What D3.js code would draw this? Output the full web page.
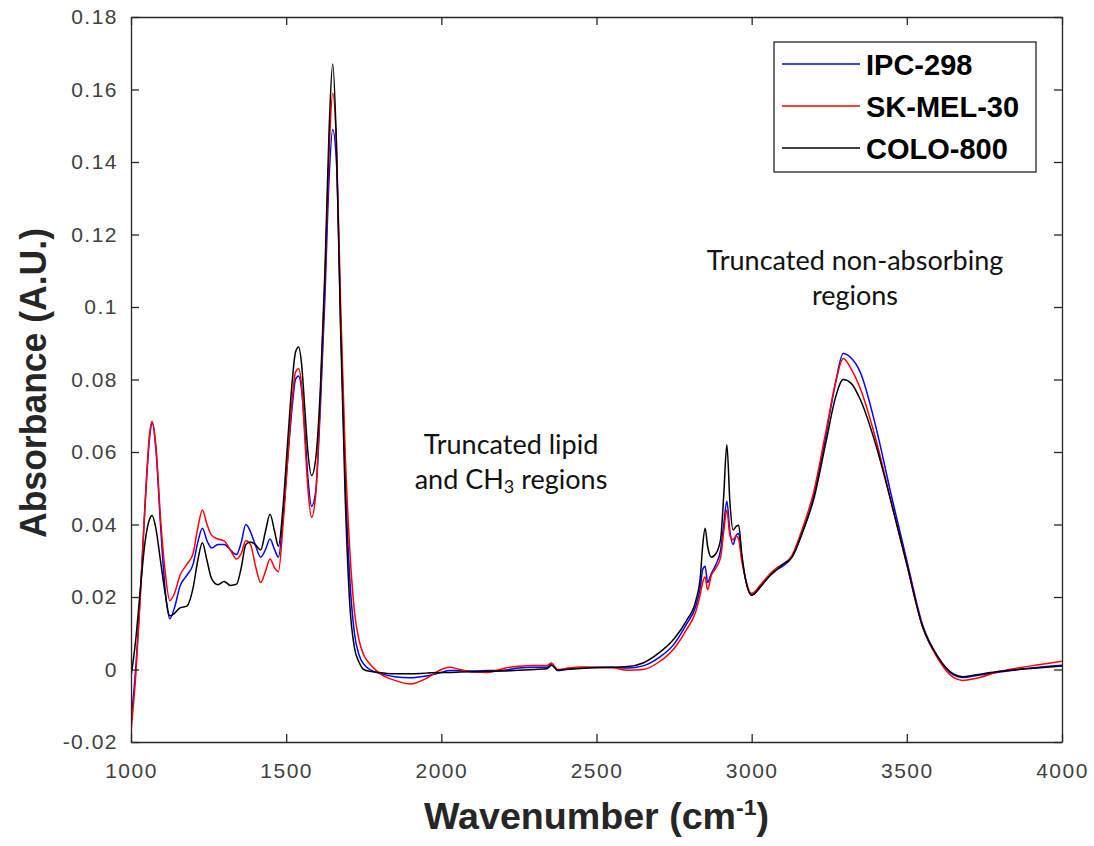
<!DOCTYPE html>
<html>
<head>
<meta charset="utf-8">
<script src="https://cdn.jsdelivr.net/npm/d3@7"></script>
<style>
  body { margin: 0; background: #fff; }
  svg { display: block; }
</style>
</head>
<body>
<script>
// wavenumber grid (cm-1), shared by all three spectra
var wavenumbers = [1000, 1015, 1030, 1045, 1060, 1068, 1080, 1095, 1110, 1125, 1140, 1158, 1180, 1200, 1215, 1230, 1245, 1260, 1280, 1300,
  1320, 1340, 1355, 1370, 1385, 1400, 1418, 1433, 1448, 1463, 1475, 1490, 1505, 1520, 1530, 1540, 1550, 1560, 1570, 1582,
  1595, 1610, 1625, 1638, 1650, 1662, 1675, 1690, 1705, 1720, 1735, 1750, 1770, 1800, 1850, 1900, 1950, 2000, 2025, 2060,
  2100, 2150, 2200, 2250, 2300, 2340, 2355, 2362, 2375, 2400, 2450, 2500, 2550, 2600, 2650, 2700, 2750, 2790, 2820, 2835,
  2842, 2850, 2858, 2870, 2885, 2900, 2910, 2920, 2930, 2940, 2950, 2958, 2968, 2980, 3000, 3030, 3060, 3080, 3100, 3130,
  3160, 3200, 3240, 3270, 3295, 3320, 3350, 3400, 3450, 3500, 3550, 3600, 3650, 3680, 3720, 3800, 3900, 4000];

var ipc298 = [-0.014, 0.000, 0.021, 0.045, 0.064, 0.068, 0.061, 0.040, 0.022, 0.014, 0.017, 0.023, 0.026, 0.029, 0.035, 0.039, 0.0355, 0.0335, 0.0345, 0.0345,
  0.033, 0.0317, 0.035, 0.040, 0.038, 0.0345, 0.031, 0.033, 0.036, 0.033, 0.031, 0.042, 0.058, 0.073, 0.080, 0.081, 0.077, 0.066, 0.053, 0.045,
  0.049, 0.072, 0.103, 0.135, 0.149, 0.140, 0.098, 0.054, 0.025, 0.010, 0.004, 0.0015, 0.0, -0.001, -0.002, -0.0023, -0.0018, -0.0008, -0.0003, -0.0003,
  -0.0004, -0.0003, -0.0002, 0.0004, 0.0006, 0.0006, 0.0015, 0.0009, -0.0003, 0.0, 0.0005, 0.0006, 0.0006, 0.0004, 0.001, 0.0032, 0.007, 0.0125, 0.0175, 0.023,
  0.0275, 0.0285, 0.024, 0.0265, 0.029, 0.033, 0.040, 0.0464, 0.038, 0.0345, 0.037, 0.0375, 0.031, 0.025, 0.0205, 0.023, 0.026, 0.0275, 0.0285, 0.031,
  0.037, 0.048, 0.065, 0.079, 0.0872, 0.086, 0.082, 0.067, 0.048, 0.030, 0.0125, 0.0035, -0.0015, -0.0022, -0.0017, -0.0007, 0.0004, 0.0012];

var skmel30 = [-0.017, -0.002, 0.020, 0.045, 0.065, 0.0685, 0.062, 0.042, 0.027, 0.019, 0.021, 0.026, 0.029, 0.032, 0.039, 0.044, 0.040, 0.037, 0.036, 0.0355,
  0.033, 0.0305, 0.032, 0.0355, 0.0345, 0.029, 0.024, 0.027, 0.0305, 0.028, 0.027, 0.040, 0.058, 0.075, 0.082, 0.083, 0.078, 0.064, 0.050, 0.042,
  0.048, 0.075, 0.108, 0.142, 0.159, 0.145, 0.102, 0.060, 0.033, 0.016, 0.008, 0.004, 0.0015, -0.001, -0.003, -0.004, -0.0025, 0.0, 0.0006, 0.0,
  -0.0007, -0.0008, 0.0003, 0.0009, 0.0011, 0.0011, 0.0018, 0.0012, 0.0, 0.0003, 0.0007, 0.0006, 0.0005, -0.0002, 0.0, 0.002, 0.0058, 0.011, 0.016, 0.021,
  0.024, 0.0255, 0.022, 0.026, 0.028, 0.031, 0.038, 0.044, 0.037, 0.0358, 0.0368, 0.036, 0.030, 0.025, 0.021, 0.0235, 0.0265, 0.028, 0.029, 0.0315,
  0.038, 0.049, 0.066, 0.079, 0.0858, 0.083, 0.0775, 0.0635, 0.046, 0.029, 0.012, 0.003, -0.0022, -0.003, -0.0025, -0.0005, 0.001, 0.0023];

var colo800 = [-0.002, 0.008, 0.022, 0.035, 0.0415, 0.0425, 0.039, 0.030, 0.021, 0.0148, 0.0155, 0.017, 0.0175, 0.0225, 0.030, 0.035, 0.030, 0.025, 0.0234, 0.0243,
  0.0232, 0.0235, 0.028, 0.0345, 0.0352, 0.0345, 0.033, 0.038, 0.0428, 0.038, 0.034, 0.045, 0.063, 0.080, 0.0875, 0.089, 0.084, 0.072, 0.060, 0.0535,
  0.058, 0.077, 0.110, 0.148, 0.167, 0.145, 0.095, 0.048, 0.018, 0.006, 0.002, 0.000, -0.0005, -0.0008, -0.0012, -0.0012, -0.001, -0.0008, -0.0008, -0.0007,
  -0.0006, -0.0005, -0.0004, -0.0002, 0.0, 0.0002, 0.0012, 0.0008, -0.0002, 0.0, 0.0003, 0.0005, 0.0006, 0.0008, 0.0018, 0.0045, 0.0085, 0.0135, 0.019, 0.026,
  0.034, 0.039, 0.034, 0.031, 0.032, 0.036, 0.048, 0.062, 0.046, 0.0385, 0.0395, 0.0398, 0.032, 0.025, 0.0205, 0.023, 0.026, 0.0275, 0.029, 0.031,
  0.037, 0.047, 0.063, 0.075, 0.080, 0.079, 0.0745, 0.062, 0.046, 0.029, 0.012, 0.0035, -0.0012, -0.002, -0.0015, -0.0005, 0.0003, 0.001];

var seriesNames = ["IPC-298", "SK-MEL-30", "COLO-800"];
var seriesColors = ["#0000ff", "#ff0000", "#000000"];
var xTicks = [1000, 1500, 2000, 2500, 3000, 3500, 4000];
var yTicks = [-0.02, 0, 0.02, 0.04, 0.06, 0.08, 0.1, 0.12, 0.14, 0.16, 0.18];
var yTickLabels = ["-0.02", "0", "0.02", "0.04", "0.06", "0.08", "0.1", "0.12", "0.14", "0.16", "0.18"];

var margin = { top: 17, right: 32, bottom: 104, left: 131 },
  width = 1094, height = 846,
  w = width - margin.left - margin.right,
  h = height - margin.top - margin.bottom;

var svg = d3.select("body").append("svg")
  .attr("width", width)
  .attr("height", height);

var sp = svg.append("g")
  .attr("transform", "translate(" + margin.left + "," + margin.top + ")");

var xScale = d3.scaleLinear().domain([1000, 4000]).range([0, w]);
var yScale = d3.scaleLinear().domain([-0.02, 0.18]).range([h, 0]);

sp.append("clipPath").attr("id", "clip")
  .append("rect").attr("width", w).attr("height", h);

var series = [ipc298, skmel30, colo800].map(function (vals, i) {
  return {
    name: seriesNames[i],
    color: seriesColors[i],
    values: wavenumbers.map(function (wn, j) { return { x: wn, y: vals[j] }; })
  };
});

var line = d3.line()
  .x(function (d) { return xScale(d.x); })
  .y(function (d) { return yScale(d.y); })
  .curve(d3.curveMonotoneX);

sp.append("g").attr("clip-path", "url(#clip)")
  .selectAll("path")
  .data(series)
  .enter()
  .append("path")
  .attr("d", function (d) { return line(d.values); })
  .attr("fill", "none")
  .attr("stroke", function (d) { return d.color; })
  .attr("stroke-width", 1.5);

// axes, matlab style: ticks inside, box all round
var axisColor = "#262626";
var tickLen = 8;

var xAxis = d3.axisBottom(xScale).tickValues(xTicks).tickSizeInner(-tickLen).tickSizeOuter(0).tickPadding(21)
  .tickFormat(d3.format("d"));
var yAxis = d3.axisLeft(yScale).tickValues(yTicks).tickSizeInner(-tickLen).tickSizeOuter(0).tickPadding(13)
  .tickFormat(function (d, i) { return yTickLabels[i]; });
var xTop = d3.axisTop(xScale).tickValues(xTicks).tickSizeInner(-tickLen).tickSizeOuter(0).tickFormat("");
var yRight = d3.axisRight(yScale).tickValues(yTicks).tickSizeInner(-tickLen).tickSizeOuter(0).tickFormat("");

sp.append("g").attr("class", "axis").attr("transform", "translate(0," + h + ")").call(xAxis);
sp.append("g").attr("class", "axis").call(yAxis);
sp.append("g").attr("class", "axis").call(xTop);
sp.append("g").attr("class", "axis").attr("transform", "translate(" + w + ",0)").call(yRight);

sp.selectAll(".axis path, .axis line").attr("stroke", axisColor).attr("stroke-width", 1.3);
sp.selectAll(".axis text")
  .attr("fill", "#404040")
  .style("font-family", "'Liberation Sans', Arial, sans-serif")
  .style("font-size", "21px")
  .style("letter-spacing", "1.5px");

// axis labels
svg.append("text")
  .attr("x", margin.left + w / 2)
  .attr("y", 829)
  .attr("text-anchor", "middle")
  .attr("textLength", 345)
  .attr("lengthAdjust", "spacingAndGlyphs")
  .style("font-family", "'Liberation Sans', Arial, sans-serif")
  .style("font-weight", "bold")
  .style("font-size", "36px")
  .attr("fill", "#262626")
  .html("Wavenumber (cm<tspan dy='-14' font-size='22px'>-1</tspan><tspan dy='14'>)</tspan>");

svg.append("text")
  .attr("transform", "translate(46," + 383 + ") rotate(-90)")
  .attr("text-anchor", "middle")
  .attr("textLength", 310)
  .attr("lengthAdjust", "spacingAndGlyphs")
  .style("font-family", "'Liberation Sans', Arial, sans-serif")
  .style("font-weight", "bold")
  .style("font-size", "36px")
  .attr("fill", "#262626")
  .text("Absorbance (A.U.)");

// legend
var legend = svg.append("g").attr("transform", "translate(774,42)");
legend.append("rect")
  .attr("width", 262).attr("height", 130)
  .attr("fill", "#fff")
  .attr("stroke", "#262626").attr("stroke-width", 1.3);

var items = legend.selectAll(".item")
  .data(series)
  .enter()
  .append("g")
  .attr("transform", function (d, i) { return "translate(0," + (22 + i * 42) + ")"; });

items.append("line")
  .attr("x1", 8).attr("x2", 86)
  .attr("stroke", function (d) { return d.color; })
  .attr("stroke-width", 1.5);

items.append("text")
  .attr("x", 92).attr("y", 11)
  .style("font-family", "'Liberation Sans', Arial, sans-serif")
  .style("font-weight", "bold")
  .style("font-size", "29px")
  .attr("fill", "#000")
  .text(function (d) { return d.name; });

// annotations
var noteFont = "Lato, 'Open Sans', sans-serif";
var note1 = svg.append("text")
  .attr("text-anchor", "middle")
  .style("font-family", noteFont)
  .style("font-size", "27px")
  .attr("fill", "#111");
note1.append("tspan").attr("x", 511).attr("y", 454).text("Truncated lipid");
note1.append("tspan").attr("x", 511).attr("y", 489)
  .html("and CH<tspan font-size='18px' dy='4'>3</tspan><tspan dy='-4'> regions</tspan>");

var note2 = svg.append("text")
  .attr("text-anchor", "middle")
  .style("font-family", noteFont)
  .style("font-size", "27px")
  .attr("fill", "#111");
note2.append("tspan").attr("x", 855).attr("y", 270).text("Truncated non-absorbing");
note2.append("tspan").attr("x", 855).attr("y", 305).text("regions");
</script>
</body>
</html>
